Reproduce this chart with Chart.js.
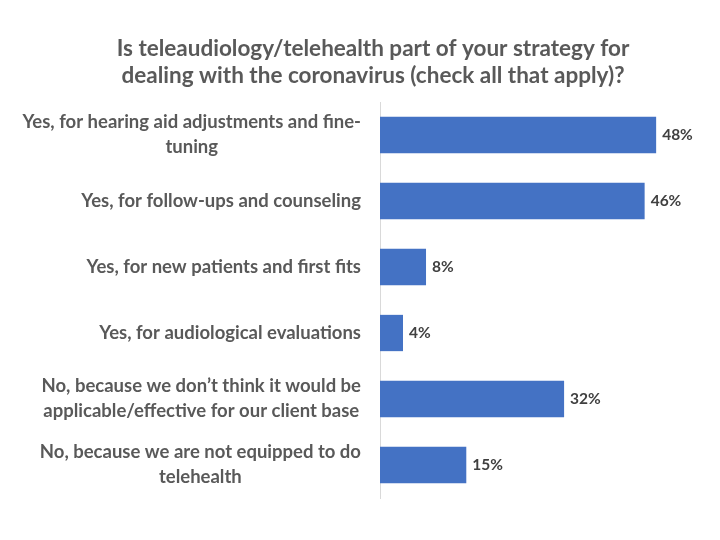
<!DOCTYPE html>
<html>
<head>
<meta charset="utf-8">
<script src="https://cdn.jsdelivr.net/npm/chart.js@4"></script>
<style>
	html, body { margin: 0; padding: 0; background: #fff; }
	#wrap { width: 720px; height: 540px; }
</style>
</head>
<body>
<div id="wrap"><canvas id="chart"></canvas></div>
<script>
const categories = [
	["Yes, for hearing aid adjustments and fine-", "tuning"],
	["Yes, for follow-ups and counseling"],
	["Yes, for new patients and first fits"],
	["Yes, for audiological evaluations"],
	["No, because we don\u2019t think it would be", "applicable/effective for our client base"],
	["No, because we are not equipped to do", "telehealth"],
];
const percents = [48, 46, 8, 4, 32, 15];
const titleLines = [
	"Is teleaudiology/telehealth part of your strategy for",
	"dealing with the coronavirus (check all that apply)?",
];

const fontFamily = "Lato, 'Open Sans', sans-serif";

// category labels: block is right-aligned against the axis, lines inside are centred (like Excel)
const categoryLabels = {
	id: "categoryLabels",
	afterDraw(chart) {
		const ctx = chart.ctx;
		const yScale = chart.scales.y;
		const right = chart.chartArea.left - 19;
		const lineH = 25;
		ctx.save();
		ctx.font = `bold 18.5px ${fontFamily}`;
		ctx.fillStyle = "#595959";
		ctx.textAlign = "center";
		ctx.textBaseline = "middle";
		categories.forEach((lines, i) => {
			const y = yScale.getPixelForValue(i);
			const w = Math.max(...lines.map((l) => ctx.measureText(l).width));
			const cx = right - w / 2;
			const top = y - ((lines.length - 1) * lineH) / 2;
			lines.forEach((l, j) => ctx.fillText(l, cx, top + j * lineH));
		});
		ctx.restore();
	},
};

// draws the "48%" style labels at the end of each bar
const valueLabels = {
	id: "valueLabels",
	afterDatasetsDraw(chart) {
		const ctx = chart.ctx;
		const meta = chart.getDatasetMeta(0);
		ctx.save();
		ctx.font = `bold 15.5px ${fontFamily}`;
		ctx.fillStyle = "#404040";
		ctx.textAlign = "left";
		ctx.textBaseline = "middle";
		meta.data.forEach((bar, i) => {
			ctx.fillText(percents[i] + "%", bar.x + 6, bar.y);
		});
		ctx.restore();
	},
};

new Chart(document.querySelector("#chart"), {
	type: "bar",
	data: {
		labels: categories.map((c) => c.join(" ")),
		datasets: [
			{
				data: percents,
				backgroundColor: "#4472C4",
				barPercentage: 0.55,
				categoryPercentage: 1,
			},
		],
	},
	options: {
		indexAxis: "y",
		responsive: true,
		maintainAspectRatio: false,
		animation: false,
		layout: {
			padding: { left: 26, right: 0, top: 0, bottom: 42 },
		},
		plugins: {
			legend: { display: false },
			tooltip: { enabled: false },
			title: {
				display: true,
				text: titleLines,
				color: "#595959",
				font: { family: fontFamily, size: 22.5, weight: "bold", lineHeight: 1.2 },
				padding: { top: 35, bottom: 13 },
			},
		},
		scales: {
			x: {
				display: false,
				min: 0,
				max: 59.1,
			},
			y: {
				grid: { display: false },
				border: { display: true, color: "#d9d9d9" },
				ticks: { display: false },
				afterFit(axis) {
					axis.width = 354;
				},
			},
		},
	},
	plugins: [valueLabels, categoryLabels],
});
</script>
</body>
</html>
